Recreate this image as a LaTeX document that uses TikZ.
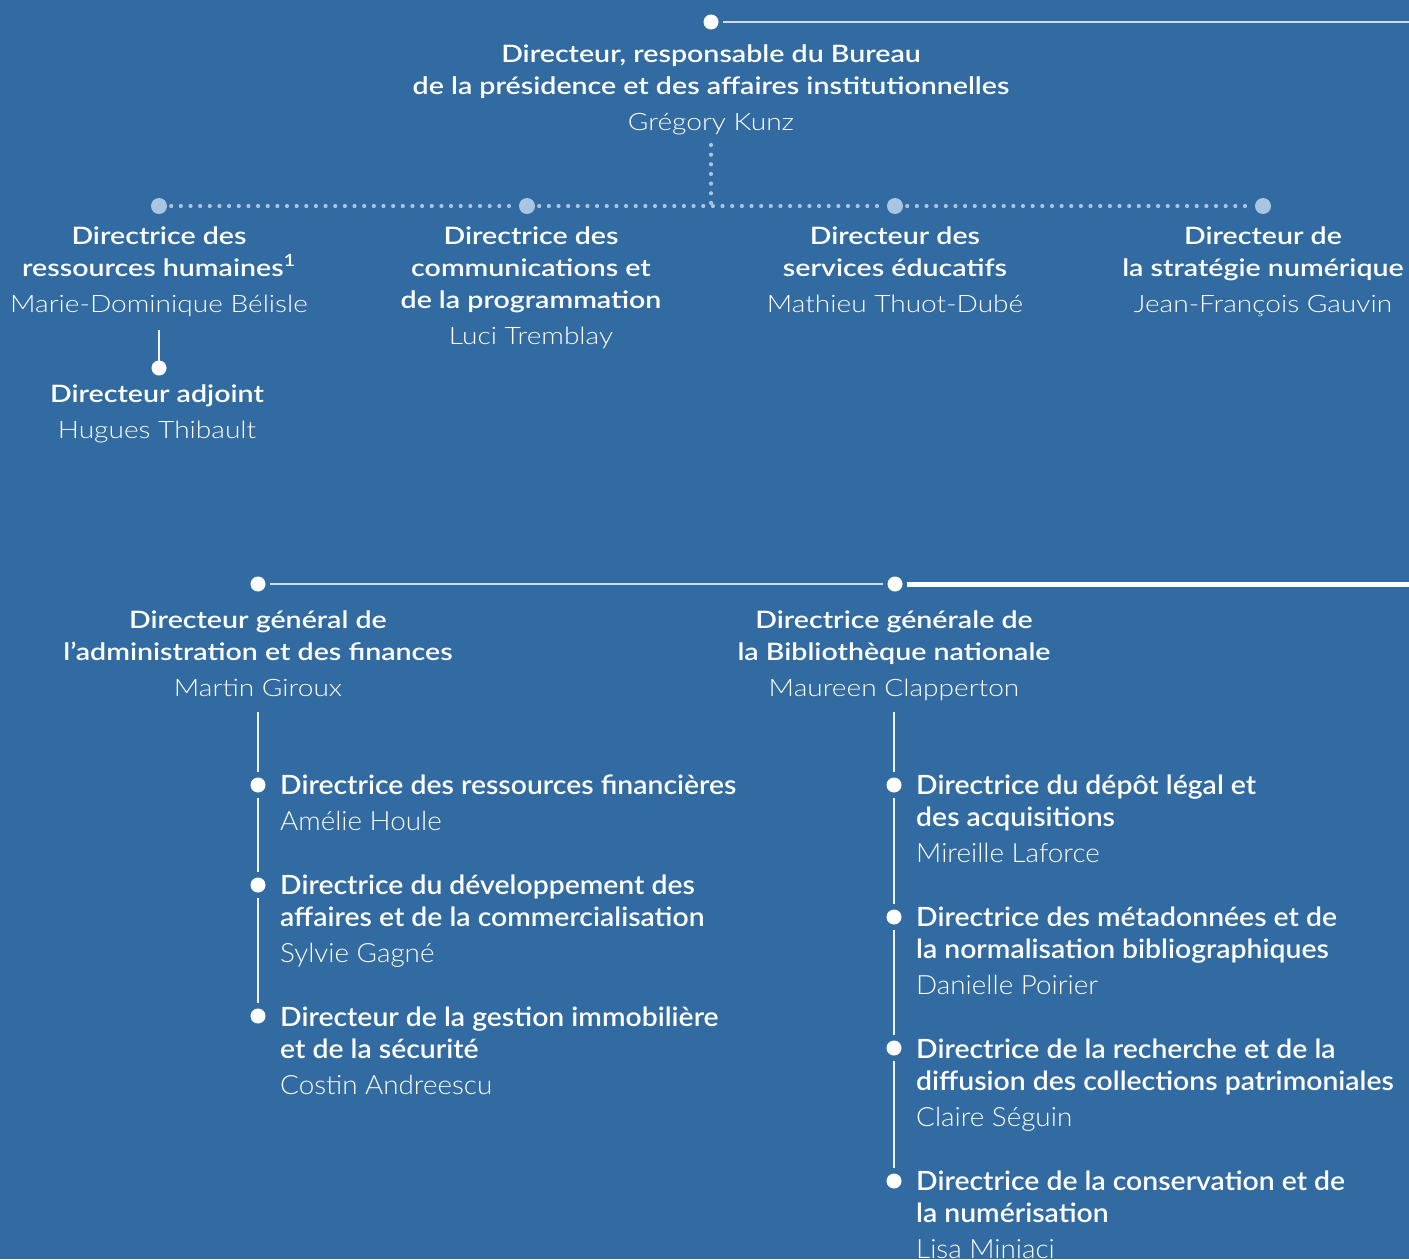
\documentclass[tikz,border=0pt]{standalone}
\usepackage{fontspec}
\setmainfont{Lato}
\newfontfamily\ttlfont{Lato Semibold}[FakeStretch=1.19]
\newfontfamily\nmfont{Lato Light}[FakeStretch=1.17]
\newfontfamily\itfont{Lato Semibold}[FakeStretch=1.07]
\newfontfamily\nmbfont{Lato Light}[FakeStretch=1.05]
\definecolor{bgblue}{RGB}{49,107,161}
\definecolor{pale}{RGB}{170,197,226}
\definecolor{paleline}{RGB}{205,221,238}
\newcommand\blkc[2]{\begin{tabular}[t]{@{}c@{}}#1\\[4pt]\nmfont #2\end{tabular}}
\newcommand\blkl[2]{\begin{tabular}[t]{@{}l@{}}#1\\[4pt]\nmbfont #2\end{tabular}}
\tikzset{
  ttl/.style={anchor=base, inner sep=0pt, text=white, font=\fontsize{24}{32}\selectfont\ttlfont},
  itm/.style={anchor=base west, inner sep=0pt, text=white, font=\fontsize{26.5}{32}\selectfont\itfont},
  wdot/.style={circle, fill=white, inner sep=0pt, minimum size=15pt},
  pdot/.style={circle, fill=pale, inner sep=0pt, minimum size=16pt},
  thinline/.style={draw=paleline, line width=1.6pt},
  wline/.style={draw=white!92!bgblue, line width=1.6pt},
  thickline/.style={draw=white, line width=5pt},
  dotline/.style={draw=pale, line width=4.2pt, line cap=round, dash pattern=on 0pt off 9.65pt},
}
\begin{document}
\begin{tikzpicture}[x=1pt,y=-1pt]
\fill[bgblue] (0,0) rectangle (1409,1259);
\useasboundingbox (0,0) rectangle (1409,1259);

% ---------- top ----------
\node[wdot] (d0) at (711,22) {};
\coordinate (e0) at (1409,22);
\draw[thinline, shorten <=4pt] (d0) -- (e0);
\node[ttl] (dir) at (711,62) {\blkc{Directeur, responsable du Bureau\\de la présidence et des affaires institutionnelles}{Grégory Kunz}};

\coordinate (v1) at (711,145);
\coordinate (v2) at (711,206);
\draw[dotline] (v1) -- (v2);

\node[pdot] (b1) at (159,206) {};
\node[pdot] (b2) at (527,206) {};
\node[pdot] (b3) at (895,206) {};
\node[pdot] (b4) at (1263,206) {};
\draw[dotline, shorten <=4pt, shorten >=4pt] (b1) -- (b2);
\draw[dotline, shorten <=4pt, shorten >=4pt] (b2) -- (b3);
\draw[dotline, shorten <=4pt, shorten >=4pt] (b3) -- (b4);

\node[ttl] (c1) at (159,244) {\blkc{Directrice des\\ressources humaines\textsuperscript{1}}{Marie-Dominique Bélisle}};
\node[ttl] (c2) at (531,244) {\blkc{Directrice des\\communications et\\de la programmation}{Luci Tremblay}};
\node[ttl] (c3) at (895,244) {\blkc{Directeur des\\services éducatifs}{Mathieu Thuot-Dubé}};
\node[ttl] (c4) at (1263,244) {\blkc{Directeur de\\la stratégie numérique}{Jean-François Gauvin}};

\coordinate (a0) at (159,330);
\node[wdot] (a1) at (159,368) {};
\draw[wline, shorten >=-1pt] (a0) -- (a1);
\node[ttl] (adj) at (157,402) {\blkc{Directeur adjoint}{Hugues Thibault}};

% ---------- bottom ----------
\node[wdot] (g1) at (258,584) {};
\node[wdot] (g2) at (895,584) {};
\coordinate (g3) at (1409,584);
\draw[thinline, shorten <=4pt, shorten >=4pt] (g1) -- (g2);
\draw[thickline, shorten <=4pt] (g2) -- (g3);

\node[ttl] (h1) at (258,628) {\blkc{Directeur général de\\l’administration et des finances}{Martin Giroux}};
\node[ttl] (h2) at (894,628) {\blkc{Directrice générale de\\la Bibliothèque nationale}{Maureen Clapperton}};

% left list
\coordinate (lt) at (258,712);
\node[wdot] (l1) at (258,785) {};
\node[wdot] (l2) at (258,885) {};
\node[wdot] (l3) at (258,1016) {};
\draw[wline, shorten >=5pt] (lt) -- (l1);
\draw[wline, shorten <=5pt, shorten >=5pt] (l1) -- (l2);
\draw[wline, shorten <=5pt, shorten >=5pt] (l2) -- (l3);
\node[itm] (li1) at (280,794) {\blkl{Directrice des ressources financières}{Amélie Houle}};
\node[itm] (li2) at (280,894) {\blkl{Directrice du développement des\\affaires et de la commercialisation}{Sylvie Gagné}};
\node[itm] (li3) at (280,1026) {\blkl{Directeur de la gestion immobilière\\et de la sécurité}{Costin Andreescu}};

% right list
\coordinate (rt) at (894,712);
\node[wdot] (r1) at (894,785) {};
\node[wdot] (r2) at (894,917) {};
\node[wdot] (r3) at (894,1048) {};
\node[wdot] (r4) at (894,1181) {};
\draw[wline, shorten >=5pt] (rt) -- (r1);
\draw[wline, shorten <=5pt, shorten >=5pt] (r1) -- (r2);
\draw[wline, shorten <=5pt, shorten >=5pt] (r2) -- (r3);
\draw[wline, shorten <=5pt, shorten >=5pt] (r3) -- (r4);
\node[itm] (ri1) at (916,794) {\blkl{Directrice du dépôt légal et\\des acquisitions}{Mireille Laforce}};
\node[itm] (ri2) at (916,926) {\blkl{Directrice des métadonnées et de\\la normalisation bibliographiques}{Danielle Poirier}};
\node[itm] (ri3) at (916,1058) {\blkl{Directrice de la recherche et de la\\diffusion des collections patrimoniales}{Claire Séguin}};
\node[itm] (ri4) at (916,1190) {\blkl{Directrice de la conservation et de\\la numérisation}{Lisa Miniaci}};
\end{tikzpicture}
\end{document}
